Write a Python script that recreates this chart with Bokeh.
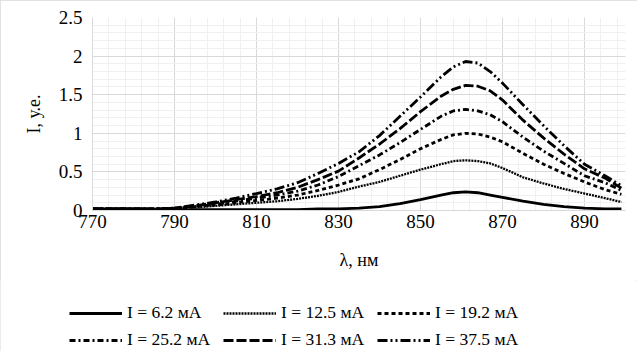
from bokeh.plotting import figure
from bokeh.models import (Range1d, FixedTicker, NumeralTickFormatter, Legend, LegendItem)
from bokeh.layouts import column
from bokeh.embed import file_html
from bokeh.resources import INLINE

wavelength = [770, 775, 780, 785, 790, 795, 800, 805, 810, 815, 820, 825, 830, 835, 840,
              845, 850, 855, 858, 861, 864, 867, 870, 875, 880, 885, 890, 895, 899]

i_6_2 = [0.02, 0.02, 0.02, 0.01, 0.00, 0.01, 0.01, 0.01, 0.01, 0.01, 0.01, 0.02, 0.02, 0.03, 0.05,
         0.09, 0.14, 0.20, 0.23, 0.24, 0.23, 0.20, 0.17, 0.12, 0.08, 0.05, 0.03, 0.02, 0.02]
i_12_5 = [0.02, 0.02, 0.02, 0.02, 0.03, 0.04, 0.06, 0.08, 0.10, 0.12, 0.15, 0.19, 0.24, 0.31, 0.37,
          0.45, 0.53, 0.60, 0.64, 0.65, 0.64, 0.61, 0.55, 0.43, 0.35, 0.28, 0.22, 0.16, 0.11]
i_19_2 = [0.02, 0.02, 0.02, 0.02, 0.03, 0.05, 0.07, 0.10, 0.13, 0.16, 0.20, 0.26, 0.33, 0.41, 0.53,
          0.66, 0.80, 0.92, 0.98, 1.00, 0.99, 0.95, 0.89, 0.74, 0.60, 0.48, 0.37, 0.27, 0.21]
i_25_2 = [0.02, 0.02, 0.02, 0.02, 0.03, 0.05, 0.08, 0.12, 0.16, 0.20, 0.25, 0.33, 0.44, 0.58, 0.72,
          0.88, 1.05, 1.22, 1.29, 1.31, 1.29, 1.24, 1.15, 0.95, 0.77, 0.61, 0.45, 0.36, 0.26]
i_31_3 = [0.02, 0.02, 0.02, 0.02, 0.03, 0.06, 0.10, 0.14, 0.18, 0.23, 0.30, 0.40, 0.51, 0.68, 0.86,
          1.06, 1.28, 1.48, 1.57, 1.62, 1.61, 1.55, 1.43, 1.17, 0.94, 0.73, 0.54, 0.42, 0.29]
i_37_5 = [0.02, 0.02, 0.02, 0.02, 0.03, 0.07, 0.11, 0.16, 0.22, 0.28, 0.36, 0.48, 0.61, 0.76, 0.97,
          1.22, 1.47, 1.73, 1.86, 1.93, 1.91, 1.80, 1.65, 1.37, 1.10, 0.84, 0.60, 0.45, 0.32]

labels = ["I = 6.2 мА", "I = 12.5 мА", "I = 19.2 мА", "I = 25.2 мА", "I = 31.3 мА", "I = 37.5 мА"]
series = [i_6_2, i_12_5, i_19_2, i_25_2, i_31_3, i_37_5]
dashes = ["solid", "2 1", "4 3", "6 3 2 3", "10 3", "10 3 2 3 2 3"]
widths = [2.8, 2.3, 2.8, 2.8, 2.8, 2.8]

x_major = [770, 790, 810, 830, 850, 870, 890]
x_minor = list(range(770, 901, 4))
y_major = [0, 0.5, 1, 1.5, 2, 2.5]
y_minor = [k / 10 for k in range(0, 26)]

FONT = "Liberation Serif"

p = figure(width=637, height=280, output_backend="svg", toolbar_location=None,
           x_range=Range1d(770, 900), y_range=Range1d(0, 2.5),
           min_border_left=92, min_border_right=12, min_border_top=17, min_border_bottom=70)
p.frame_align = False
p.outline_line_color = None
p.background_fill_color = "white"
p.border_fill_color = "white"

p.xaxis.ticker = FixedTicker(ticks=x_major, minor_ticks=x_minor)
p.yaxis.ticker = FixedTicker(ticks=y_major, minor_ticks=y_minor)
p.yaxis.formatter = NumeralTickFormatter(format="0.[0]")

for ax in (p.xaxis[0], p.yaxis[0]):
    ax.major_tick_line_color = None
    ax.minor_tick_line_color = None
    ax.major_tick_out = 0
    ax.major_tick_in = 0
    ax.axis_line_color = "#d9d9d9"
    ax.major_label_text_font = FONT
    ax.major_label_text_font_size = "19px"
    ax.major_label_text_color = "black"
    ax.axis_label_text_font = FONT
    ax.axis_label_text_font_size = "18px"
    ax.axis_label_text_font_style = "normal"
    ax.axis_label_text_color = "black"

p.xaxis.major_label_standoff = 0
p.yaxis.major_label_standoff = 6
p.xaxis.axis_label = "λ, нм"
p.yaxis.axis_label = "I, у.е."
p.xaxis.axis_label_standoff = 19
p.yaxis.axis_label_standoff = 12

p.xgrid.grid_line_color = "#d9d9d9"
p.ygrid.grid_line_color = "#d9d9d9"
p.xgrid.minor_grid_line_color = "#f0f0f0"
p.ygrid.minor_grid_line_color = "#f0f0f0"
p.xgrid.level = "underlay"
p.ygrid.level = "underlay"

# legend figure below the chart (its lines lie outside its ranges; only the legend shows)
q = figure(width=637, height=71, output_backend="svg", toolbar_location=None,
           x_range=Range1d(0, 1), y_range=Range1d(0, 1),
           min_border_left=0, min_border_right=0, min_border_top=0, min_border_bottom=0)
q.frame_align = False
q.axis.visible = False
q.grid.visible = False
q.outline_line_color = None
q.background_fill_color = "white"
q.border_fill_color = "white"

items = []
for lab, ys, d, w in zip(labels, series, dashes, widths):
    p.line(wavelength, ys, line_color="black", line_width=w, line_dash=d)
    r = q.line(wavelength, ys, line_color="black", line_width=w, line_dash=d)
    items.append(LegendItem(label=lab, renderers=[r]))

legend = Legend(items=items, orientation="horizontal", ncols=3,
                location=(69, 1), glyph_width=53, glyph_height=20, label_height=20,
                label_width=90, label_standoff=5, spacing=6, padding=0, margin=0,
                label_text_font=FONT, label_text_font_size="17.5px", label_text_color="black",
                border_line_color=None, background_fill_alpha=0)
q.add_layout(legend, "center")

layout = column(p, q, spacing=0)
layout.styles = {"outline": "1px solid #d9d9d9", "outline-offset": "-1px"}

open("out.html", "w").write(file_html(layout, INLINE))
